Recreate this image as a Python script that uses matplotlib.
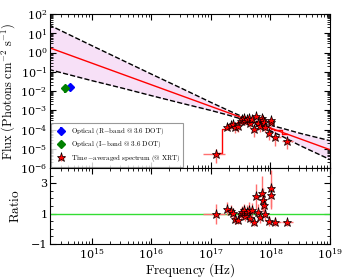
import numpy as np
import matplotlib.pyplot as plt
from matplotlib.ticker import LogLocator, MultipleLocator, NullFormatter

plt.rcParams['mathtext.fontset'] = 'cm'
plt.rcParams['font.family'] = 'DejaVu Serif'

# optical points (Hz, photons cm^-2 s^-1)
opt_r_freq = [4.3e14]
opt_r_flux = [1.7e-2]
opt_r_err = [[0.6e-2], [0.3e-2]]
opt_i_freq = [3.5e14]
opt_i_flux = [1.45e-2]
opt_i_err = [[0.7e-2], [0.3e-2]]

# XRT time-averaged spectrum (log10 frequency)
xrt_lognu = [17.09, 17.275, 17.33, 17.376, 17.41, 17.454, 17.5, 17.528, 17.555,
             17.578, 17.605, 17.634, 17.656, 17.69, 17.723, 17.764, 17.79, 17.825,
             17.853, 17.875, 17.89, 17.916, 17.97, 18.005, 18.017, 18.084, 18.27]
xrt_dlo = [0.23, 0.02, 0.02, 0.02, 0.02, 0.02, 0.02, 0.015, 0.015,
           0.015, 0.015, 0.015, 0.015, 0.015, 0.015, 0.02, 0.015, 0.02,
           0.015, 0.015, 0.015, 0.02, 0.02, 0.02, 0.02, 0.06, 0.08]
xrt_dhi = [0.14, 0.02, 0.02, 0.02, 0.02, 0.02, 0.02, 0.015, 0.015,
           0.015, 0.015, 0.015, 0.015, 0.015, 0.015, 0.02, 0.015, 0.02,
           0.015, 0.015, 0.015, 0.02, 0.02, 0.02, 0.02, 0.1, 0.11]
xrt_logflux = [-5.26, -3.85, -3.78, -3.73, -3.89, -3.82, -3.56, -3.48, -3.42,
               -3.56, -3.45, -3.41, -3.66, -3.48, -3.98, -3.32, -3.64, -3.83,
               -3.39, -3.51, -3.61, -3.85, -4.18, -3.59, -3.53, -4.37, -4.61]
model_logflux = [-5.24, -3.97, -3.85, -3.75, -3.68, -3.6, -3.55, -3.52, -3.5,
                 -3.49, -3.49, -3.5, -3.52, -3.56, -3.6, -3.65, -3.69, -3.73,
                 -3.76, -3.79, -3.8, -3.83, -3.89, -3.93, -3.95, -4.02, -4.23]
ratio = [0.95, 1.33, 1.17, 1.04, 0.62, 0.6, 0.98, 1.09, 1.2,
         0.85, 1.11, 1.24, 0.73, 1.2, 0.42, 2.13, 1.13, 0.8,
         2.36, 1.91, 1.55, 0.95, 0.51, 2.2, 2.65, 0.45, 0.42]
ratio_err = [0.65, 0.45, 0.4, 0.35, 0.3, 0.3, 0.4, 0.4, 0.45,
             0.35, 0.45, 0.5, 0.35, 0.5, 0.25, 0.8, 0.5, 0.4,
             1.1, 0.8, 0.6, 0.45, 0.3, 0.9, 1.2, 0.3, 0.25]

# power-law fit and its bow-tie (log10 values)
pl_lognu = [14.28, 19.0]
pl_logflux = [0.26, -5.05]
band_lognu = [14.28, 15.0, 15.5, 16.0, 16.5, 17.0, 17.3, 17.6, 17.9, 18.2, 18.5, 19.0]
band_up = [1.44, 0.36, -0.38, -1.12, -1.85, -2.59, -3.02, -3.43, -3.70, -3.94, -4.20, -4.58]
band_lo = [-0.88, -1.46, -1.84, -2.24, -2.63, -3.01, -3.26, -3.53, -3.92, -4.36, -4.84, -5.56]

nu = 10 ** np.array(xrt_lognu)
flux = 10 ** np.array(xrt_logflux)
rat = np.array(ratio)
rerr = np.array(ratio_err)
xerr = [nu - 10 ** (np.array(xrt_lognu) - xrt_dlo), 10 ** (np.array(xrt_lognu) + xrt_dhi) - nu]
ferr = flux * rerr / rat

fig = plt.figure(figsize=(3.5, 2.8), dpi=100)
ax1 = fig.add_axes([0.143, 0.4, 0.8, 0.55])
ax2 = fig.add_axes([0.143, 0.129, 0.8, 0.271], sharex=ax1)

bnu = 10 ** np.array(band_lognu)
ax1.fill_between(bnu, 10 ** np.array(band_lo), 10 ** np.array(band_up), color='m', alpha=0.12, lw=0)
ax1.plot(bnu, 10 ** np.array(band_up), 'k--', lw=1)
ax1.plot(bnu, 10 ** np.array(band_lo), 'k--', lw=1)
ax1.plot(10 ** np.array(pl_lognu), 10 ** np.array(pl_logflux), color='red', lw=1)
ax1.step(nu, 10 ** np.array(model_logflux), where='mid', color='red', lw=1)

ax1.errorbar(opt_r_freq, opt_r_flux, yerr=opt_r_err, fmt='D', color='blue', ms=4,
             label=r'$\mathrm{Optical\ (R\!-\!band\ @\ 3.6\ DOT)}$')
ax1.errorbar(opt_i_freq, opt_i_flux, yerr=opt_i_err, fmt='D', color='green', ms=4,
             label=r'$\mathrm{Optical\ (I\!-\!band\ @\ 3.6\ DOT)}$')
ax1.errorbar(nu, flux, xerr=xerr, yerr=ferr, fmt='*', color='red', mec='black', mew=0.5,
             ms=6.5, ecolor='#ff7070', elinewidth=1,
             label=r'$\mathrm{Time\!-\!averaged\ spectrum\ (@\ XRT)}$')

ax1.set_xscale('log')
ax1.set_yscale('log')
ax1.set_xlim(2e14, 1e19)
ax1.set_ylim(1e-6, 1e2)
ax1.yaxis.set_major_locator(LogLocator(base=10, numticks=20))
ax1.yaxis.set_minor_locator(LogLocator(base=10, subs=np.arange(2, 10), numticks=20))
ax1.yaxis.set_minor_formatter(NullFormatter())
ax1.set_ylabel(r'$\mathrm{Flux\ (Photons\ cm^{-2}\ s^{-1})}$', fontsize=9)
ax1.yaxis.set_label_coords(-0.118, 0.5)
ax1.tick_params(labelbottom=False)
leg = ax1.legend(loc='lower left', fontsize=5, fancybox=False, edgecolor='gray',
                 borderaxespad=0.2, handletextpad=0.4, labelspacing=0.35, numpoints=1,
                 borderpad=0.4)
leg.get_frame().set_linewidth(0.8)

ax2.axhline(1, color='#33dd33', lw=1)
ax2.errorbar(nu, rat, xerr=xerr, yerr=rerr, fmt='*', color='red', mec='black', mew=0.5,
             ms=6.5, ecolor='#ff7070', elinewidth=1)
ax2.set_ylim(-1, 4)
ax2.set_yticks([-1, 1, 3])
ax2.yaxis.set_minor_locator(MultipleLocator(0.5))
ax2.set_ylabel(r'$\mathrm{Ratio}$', fontsize=9.5)
ax2.yaxis.set_label_coords(-0.1, 0.5)
ax2.set_xlabel(r'$\mathrm{Frequency\ (Hz)}$', fontsize=9.5, labelpad=0)
ax2.xaxis.set_minor_formatter(NullFormatter())

for ax in (ax1, ax2):
    ax.tick_params(which='both', direction='in', top=True, right=True, labelsize=8)
    ax.tick_params(which='major', length=4, pad=2)
    ax.tick_params(which='minor', length=2)

fig.savefig('out.png', dpi=100)
